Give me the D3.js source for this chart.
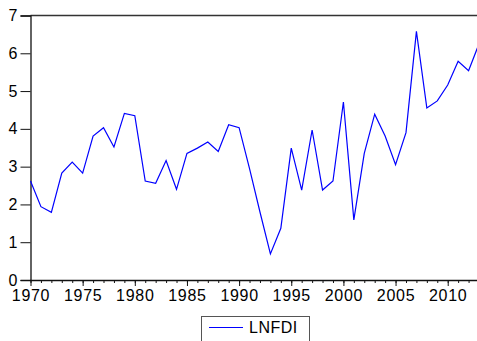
<!DOCTYPE html>
<html>
<head>
<meta charset="utf-8">
<script src="https://cdn.jsdelivr.net/npm/d3@7"></script>
<style>
html,body{margin:0;padding:0;background:#fff;overflow:hidden;}
svg{display:block;}
text{font-family:"Liberation Sans",Arial,sans-serif;fill:#000;}
</style>
</head>
<body>
<script>
const years = d3.range(1970, 2014);
const lnfdi = [2.62,1.94,1.79,2.83,3.12,2.83,3.81,4.03,3.52,4.41,
               4.35,2.62,2.56,3.16,2.40,3.35,3.49,3.65,3.40,4.11,
               4.03,2.95,1.80,0.69,1.37,3.49,2.38,3.97,2.38,2.62,
               4.71,1.59,3.35,4.39,3.81,3.05,3.90,6.58,4.55,4.74,
               5.16,5.79,5.54,6.25];
const yTicks = [0,1,2,3,4,5,6,7];
const xMajor = [1970,1975,1980,1985,1990,1995,2000,2005,2010];
const seriesName = "LNFDI";

const W = 477, H = 341;
const svg = d3.select("body").append("svg").attr("width", W).attr("height", H);

const x = d3.scaleLinear().domain([1970, 2013]).range([30.5, 479]);
const y = d3.scaleLinear().domain([0, 7]).range([280, 15.5]);

// frame top
svg.append("line").attr("x1", 30.5).attr("x2", 479).attr("y1", 15.5).attr("y2", 15.5)
  .attr("stroke", "#333").attr("stroke-width", 1.3);

// y axis
const ya = svg.append("g").attr("transform", "translate(30.5,0)")
  .call(d3.axisLeft(y).tickValues(yTicks).tickSize(10).tickPadding(3).tickFormat(d3.format("d")));
ya.select(".domain").attr("stroke", "#111").attr("stroke-width", 1.3);
ya.selectAll(".tick line").attr("stroke", "#111");
ya.selectAll("text").style("font-size", "16px").attr("font-family", null);

// x axis minor
const xMinor = svg.append("g").attr("transform", "translate(0,280)")
  .call(d3.axisBottom(x).tickValues(years).tickSize(3).tickFormat(""));
xMinor.select(".domain").remove();
xMinor.selectAll(".tick line").attr("stroke", "#111");

const xa = svg.append("g").attr("transform", "translate(0,280)")
  .call(d3.axisBottom(x).tickValues(xMajor).tickSize(6).tickPadding(4).tickFormat(d3.format("d")));
xa.select(".domain").attr("d", "M30.5,0.5H479").attr("stroke", "#111").attr("stroke-width", 1.3);
xa.selectAll(".tick line").attr("stroke", "#111");
xa.selectAll("text").style("font-size", "16px").style("letter-spacing", "0.7px").attr("font-family", null);

// line
const line = d3.line().x((d, i) => x(years[i])).y(d => y(d));
svg.append("path").datum(lnfdi).attr("d", line)
  .attr("fill", "none").attr("stroke", "#0000ff").attr("stroke-width", 1.2)
  .attr("stroke-linejoin", "miter");

// legend
const lg = svg.append("g");
lg.append("rect").attr("x", 201.5).attr("y", 316.5).attr("width", 108).attr("height", 40)
  .attr("fill", "#fff").attr("stroke", "#555").attr("stroke-width", 1);
lg.append("line").attr("x1", 209).attr("x2", 243).attr("y1", 327.5).attr("y2", 327.5)
  .attr("stroke", "#0000ff").attr("stroke-width", 1.2);
lg.append("text").attr("x", 249).attr("y", 333).style("font-size", "16px").style("letter-spacing", "0.5px").text(seriesName);
</script>
</body>
</html>
